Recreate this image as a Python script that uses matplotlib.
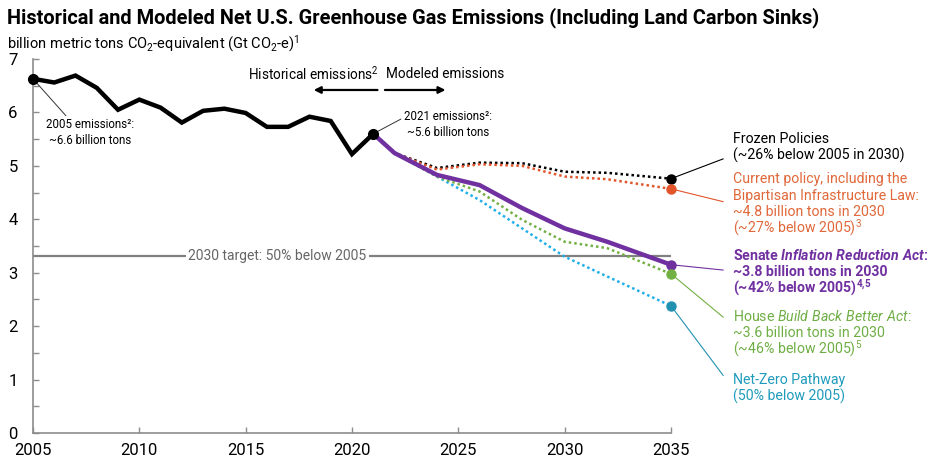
import matplotlib
matplotlib.use("Agg")
import matplotlib.pyplot as plt

plt.rcParams['font.family'] = ['Roboto', 'DejaVu Sans']
plt.rcParams['mathtext.fontset'] = 'custom'
plt.rcParams['mathtext.rm'] = 'Roboto'
plt.rcParams['mathtext.it'] = 'Roboto:italic'
plt.rcParams['mathtext.bf'] = 'Roboto:bold'
plt.rcParams['mathtext.bfit'] = 'Roboto:italic:bold'
plt.rcParams['mathtext.default'] = 'regular'

# historical net emissions, Gt CO2-e
hist_years = list(range(2005, 2022))
hist_vals = [6.63, 6.56, 6.69, 6.46, 6.05, 6.24, 6.09, 5.81, 6.03, 6.07,
             5.99, 5.73, 5.73, 5.92, 5.84, 5.22, 5.60]

# modeled scenarios
mod_years = [2021, 2022, 2024, 2026, 2028, 2030, 2032, 2035]
frozen = [5.60, 5.24, 4.96, 5.06, 5.05, 4.89, 4.87, 4.76]
current = [5.60, 5.24, 4.93, 5.03, 5.00, 4.80, 4.75, 4.57]
senate_ira = [5.60, 5.24, 4.83, 4.64, 4.21, 3.83, 3.58, 3.15]
house_bbb = [5.60, 5.24, 4.80, 4.52, 3.99, 3.58, 3.46, 2.98]
net_zero = [5.60, 5.24, 4.80, 4.36, 3.83, 3.30, 2.93, 2.38]

target = 3.31

fig = plt.figure(figsize=(9.31, 4.75), dpi=100)
ax = fig.add_axes([0.0354, 0.0884, 0.6853, 0.7874])

gray = '#8c8c8c'
c_orange = '#e2552b'
c_purple = '#7030a0'
c_green = '#72b043'
c_blue = '#1eaee8'
c_teal = '#2291b0'
dots = (0, (1, 1.2))

# target line
ax.plot([2005, 2035], [target, target], color='#808080', lw=1.6, zorder=1)
ax.text(2016.5, target, "2030 target: 50% below 2005", ha='center', va='center',
        fontsize=10, color='#666666', zorder=2,
        bbox=dict(facecolor='white', edgecolor='none', pad=2))

# modeled lines
ax.plot(mod_years, frozen, color='black', lw=1.8, ls=dots, zorder=3)
ax.plot(mod_years, current, color=c_orange, lw=1.8, ls=dots, zorder=3)
ax.plot(mod_years, net_zero, color=c_blue, lw=1.8, ls=dots, zorder=3)
ax.plot(mod_years, house_bbb, color=c_green, lw=1.8, ls=dots, zorder=4)
ax.plot(mod_years, senate_ira, color=c_purple, lw=3.2, zorder=5)

# end markers
for vals, col in [(frozen, 'black'), (current, c_orange), (senate_ira, c_purple),
                  (house_bbb, c_green), (net_zero, c_teal)]:
    ax.plot(mod_years[-1], vals[-1], 'o', color=col, ms=6.5, zorder=6, clip_on=False)

# historical
ax.plot(hist_years, hist_vals, color='black', lw=3.2, zorder=7, solid_joinstyle='miter')
ax.plot([hist_years[0], hist_years[-1]], [hist_vals[0], hist_vals[-1]], 'o',
        color='black', ms=7, zorder=8, clip_on=False)

# point annotations
ax.annotate("2005 emissions²:\n~6.6 billion tons", xy=(2005, hist_vals[0]),
            xytext=(2007.7, 5.62), ha='center', va='center', fontsize=8.3,
            linespacing=1.25,
            arrowprops=dict(arrowstyle='-', color='#333333', lw=0.7,
                            shrinkA=0, shrinkB=0, relpos=(0.25, 1.0)))
ax.annotate("2021 emissions²:\n~5.6 billion tons", xy=(2021, hist_vals[-1]),
            xytext=(2024.5, 5.77), ha='center', va='center', fontsize=8.3,
            linespacing=1.25,
            arrowprops=dict(arrowstyle='-', color='#333333', lw=0.7,
                            shrinkA=0, shrinkB=0, relpos=(0.0, 0.75)))

# historical / modeled arrows
ax.text(2021.25, 6.72, "Historical emissions$^2$", ha='right', va='center', fontsize=9.8)
ax.text(2021.6, 6.72, "Modeled emissions", ha='left', va='center', fontsize=9.8)
ax.annotate("", xy=(2018.2, 6.42), xytext=(2021.2, 6.42),
            arrowprops=dict(arrowstyle='-|>', color='black', lw=1.6,
                            mutation_scale=10, shrinkA=0, shrinkB=0))
ax.annotate("", xy=(2024.4, 6.42), xytext=(2021.55, 6.42),
            arrowprops=dict(arrowstyle='-|>', color='black', lw=1.6,
                            mutation_scale=10, shrinkA=0, shrinkB=0))

# right side labels: (series, colour, text colour, leader end y, first baseline y, lines, weight)
lx = 2037.9
ex = 2037.45
step = 0.307
labels = [
    (frozen, 'black', 'black', 5.13, 5.43,
     ["Frozen Policies", "(~26% below 2005 in 2030)"], 'normal'),
    (current, c_orange, '#e0683a', 4.33, 4.67,
     ["Current policy, including the", "Bipartisan Infrastructure Law:",
      "~4.8 billion tons in 2030", "(~27% below 2005)$^3$"], 'normal'),
    (senate_ira, c_purple, c_purple, 3.05, 3.24,
     ["Senate $\\mathbfit{Inflation\\ Reduction\\ Act}$:", "~3.8 billion tons in 2030",
      "(~42% below 2005)$^{4{,}5}$"], 'bold'),
    (house_bbb, c_green, '#6fae45', 2.17, 2.10,
     ["House $\\mathit{Build\\ Back\\ Better\\ Act}$:", "~3.6 billion tons in 2030",
      "(~46% below 2005)$^5$"], 'normal'),
    (net_zero, c_teal, '#1f9bbb', 1.08, 0.91,
     ["Net-Zero Pathway", "(50% below 2005)"], 'normal'),
]
for vals, col, tcol, ey, y0, lines, wt in labels:
    ax.plot([2035, ex], [vals[-1], ey], color=col, lw=0.8, clip_on=False, zorder=2)
    for i, ln in enumerate(lines):
        ax.text(lx, y0 - i * step, ln, ha='left', va='baseline', fontsize=10.2,
                color=tcol, fontweight=wt)

# axes styling
ax.set_xlim(2005, 2035)
ax.set_ylim(0, 7)
ax.set_xticks(range(2005, 2036, 5))
ax.set_yticks(range(0, 8))
ax.set_yticks([i + 0.5 for i in range(7)], minor=True)
for s in ['top', 'right']:
    ax.spines[s].set_visible(False)
for s in ['left', 'bottom']:
    ax.spines[s].set_color(gray)
    ax.spines[s].set_linewidth(1.2)
ax.tick_params(axis='both', which='both', direction='in', colors=gray,
               labelcolor='black', labelsize=12, length=4, width=1)
ax.tick_params(axis='y', which='major', pad=11)
ax.tick_params(axis='x', which='major', pad=7)

fig.text(0.008, 0.985, "Historical and Modeled Net U.S. Greenhouse Gas Emissions "
         "(Including Land Carbon Sinks)", ha='left', va='top', fontsize=14.4,
         fontweight='bold')
fig.text(0.008, 0.93, "billion metric tons CO$_2$-equivalent (Gt CO$_2$-e)$^1$",
         ha='left', va='top', fontsize=10.5)

fig.savefig("out.png", dpi=100)
